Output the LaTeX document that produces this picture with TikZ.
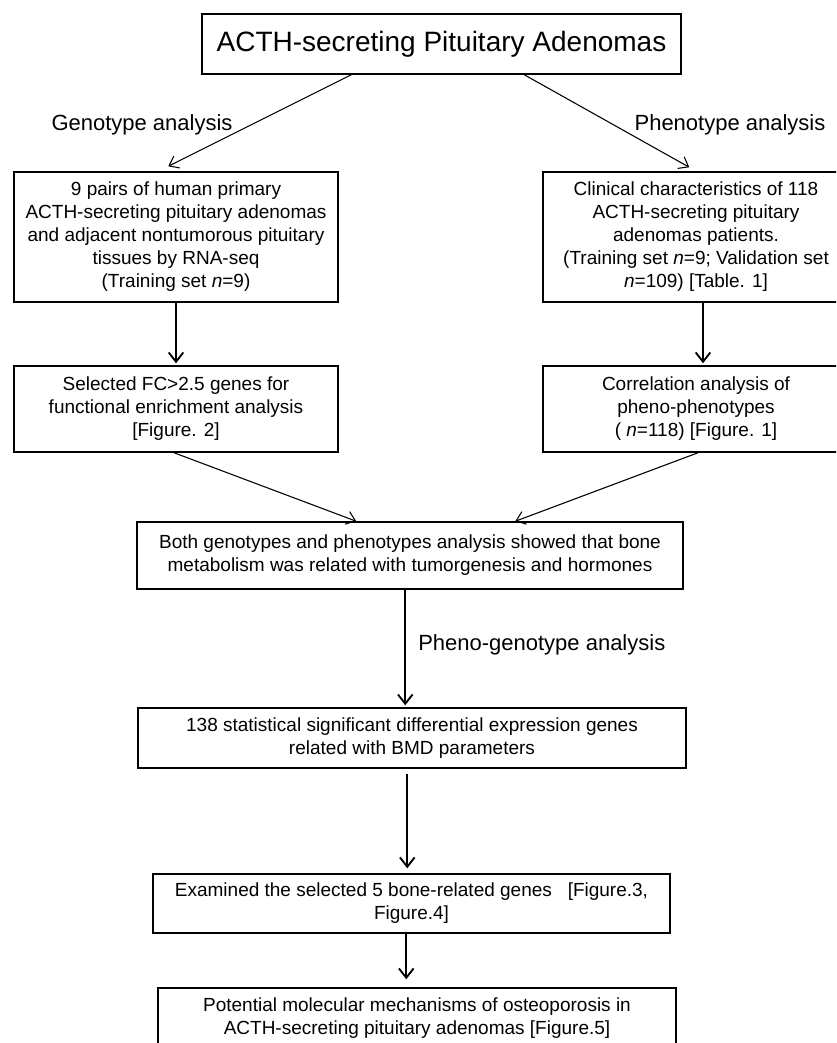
\documentclass[tikz,border=0pt]{standalone}
\usepackage{fontspec}
\setmainfont{Liberation Sans}
\usetikzlibrary{arrows.meta,calc}
\begin{document}
\begin{tikzpicture}[x=0.75pt,y=-0.75pt,
  box/.style={draw, line width=1.1pt, rectangle, inner sep=0pt, align=center,
    font=\fontsize{14.25pt}{17.25pt}\selectfont},
  lab/.style={font=\fontsize{16.5pt}{19pt}\selectfont, inner sep=0pt},
  thinarr/.style={line width=0.8pt, -{Straight Barb[length=6.5pt,width=10pt]}},
  thickarr/.style={line width=1.4pt, -{Straight Barb[length=7pt,width=11pt]}}]
\useasboundingbox (0,0) rectangle (836,1043);
\fill[white] (0,0) rectangle (836,1043);
\clip (0,0) rectangle (836,1043);

\node[box, minimum width=359.25pt, minimum height=45pt, font=\fontsize{21pt}{25pt}\selectfont]
  (top) at (441.5,44) {ACTH-secreting Pituitary Adenomas};

\node[box, minimum width=243pt, minimum height=97.5pt] (L1) at (176,237)
  {9 pairs of human primary\\ ACTH-secreting pituitary adenomas\\ and adjacent nontumorous pituitary\\ tissues by RNA-seq\\ (Training set \textit{n}=9)};
\node[box, minimum width=229.5pt, minimum height=97.5pt] (R1) at (696,237)
  {Clinical characteristics of 118\\ ACTH-secreting pituitary\\ adenomas patients.\\ (Training set \textit{n}=9; Validation set\\ \textit{n}=109) [Table. 1]};

\node[box, minimum width=243pt, minimum height=64.5pt] (L2) at (176,409)
  {Selected FC>2.5 genes for\\ functional enrichment analysis\\ {[}Figure. 2{]}};
\node[box, minimum width=229.5pt, minimum height=64.5pt] (R2) at (696,409)
  {Correlation analysis of\\ pheno-phenotypes\\ ( \textit{n}=118) [Figure. 1]};

\node[box, minimum width=409.5pt, minimum height=50.25pt] (Mid) at (410,555.5)
  {Both genotypes and phenotypes analysis showed that bone\\ metabolism was related with tumorgenesis and hormones};

\node[box, minimum width=411pt, minimum height=45pt] (B1) at (412,738)
  {138 statistical significant differential expression genes\\ related with BMD parameters};

\node[box, minimum width=387.75pt, minimum height=44.25pt] (B2) at (411.5,903.5)
  {Examined the selected 5 bone-related genes\ \ \ [Figure.3,\\ Figure.4]};

\node[box, minimum width=388.5pt, minimum height=45.75pt] (B3) at (417,1018.5)
  {Potential molecular mechanisms of osteoporosis in\\ ACTH-secreting pituitary adenomas [Figure.5]};

\node[lab] (g) at (142,125) {Genotype analysis};
\node[lab] (p) at (730,125) {Phenotype analysis};
\node[lab, anchor=west] (pg) at (418,645) {Pheno-genotype analysis};

\draw[thinarr] ($(top.south west)+(150,0)$) -- ($(L1.north west)+(155,-5)$);
\draw[thinarr] ($(top.south west)+(323,0)$) -- ($(R1.north west)+(147,-4)$);
\draw[thickarr] (L1.south) -- ($(L2.north)+(0,-2)$);
\draw[thickarr] ($(R1.south)+(7,0)$) -- ($(R2.north)+(7,-2)$);
\draw[thinarr] ($(L2.south)+(-2,0)$) -- ($(Mid.north west)+(220,0)$);
\draw[thinarr] ($(R2.south)+(2,0)$) -- ($(Mid.north west)+(379,0)$);
\draw[thickarr] ($(Mid.south west)+(269,0)$) -- ($(B1.north west)+(268,-2)$);
\draw[thickarr] ($(B1.south west)+(270,5)$) -- ($(B2.north west)+(255,-5)$);
\draw[thickarr] ($(B2.south west)+(254,0)$) -- ($(B3.north west)+(249,-8)$);
\end{tikzpicture}
\end{document}
